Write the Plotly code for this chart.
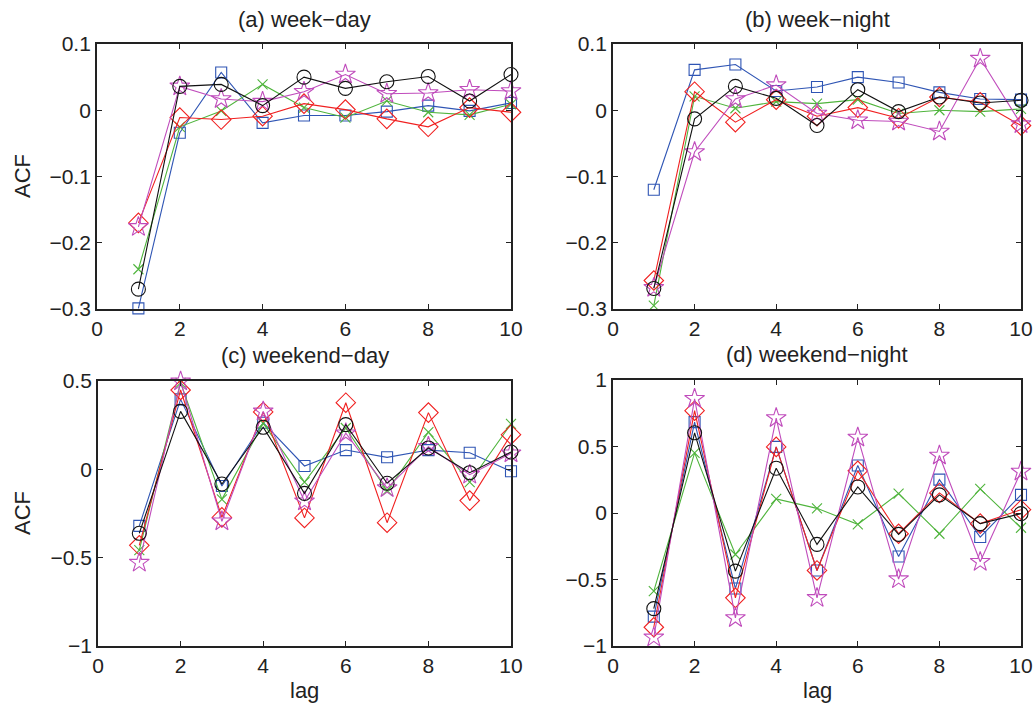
import plotly.graph_objects as go

# Autocorrelation of the five series at lags 1..10, one block per panel
lags = [1, 2, 3, 4, 5, 6, 7, 8, 9, 10]

# (a) week-day
a_circle = [-0.270, 0.036, 0.039, 0.007, 0.050, 0.033, 0.043, 0.051, 0.014, 0.054]
a_square = [-0.299, -0.034, 0.057, -0.019, -0.008, -0.008, -0.002, 0.007, -0.001, 0.011]
a_cross = [-0.240, -0.025, -0.001, 0.039, 0.004, -0.011, 0.014, -0.003, -0.007, 0.009]
a_diamond = [-0.170, -0.011, -0.014, -0.009, 0.010, 0.001, -0.013, -0.025, 0.004, -0.003]
a_star = [-0.176, 0.036, 0.017, 0.013, 0.028, 0.054, 0.025, 0.026, 0.031, 0.029]

# (b) week-night
b_circle = [-0.269, -0.013, 0.036, 0.018, -0.023, 0.031, -0.002, 0.020, 0.011, 0.015]
b_square = [-0.120, 0.061, 0.069, 0.029, 0.035, 0.050, 0.042, 0.027, 0.017, 0.016]
b_cross = [-0.295, 0.021, 0.003, 0.013, 0.010, 0.016, -0.005, 0.000, -0.002, 0.002]
b_diamond = [-0.257, 0.028, -0.018, 0.016, -0.009, 0.004, -0.012, 0.020, 0.012, -0.023]
b_star = [-0.268, -0.063, 0.017, 0.038, -0.005, -0.015, -0.017, -0.032, 0.078, -0.021]

# (c) weekend-day
c_circle = [-0.362, 0.328, -0.083, 0.238, -0.136, 0.253, -0.079, 0.121, -0.019, 0.098]
c_square = [-0.320, 0.396, -0.094, 0.264, 0.019, 0.109, 0.068, 0.109, 0.094, -0.011]
c_cross = [-0.457, 0.490, -0.170, 0.260, -0.072, 0.234, -0.121, 0.211, -0.072, 0.257]
c_diamond = [-0.430, 0.449, -0.272, 0.325, -0.275, 0.377, -0.302, 0.321, -0.177, 0.196]
c_star = [-0.528, 0.498, -0.294, 0.328, -0.181, 0.204, -0.106, 0.128, -0.030, 0.091]

# (d) weekend-night
d_circle = [-0.719, 0.603, -0.437, 0.337, -0.236, 0.196, -0.161, 0.136, -0.080, -0.005]
d_square = [-0.779, 0.683, -0.568, 0.497, -0.432, 0.357, -0.327, 0.251, -0.181, 0.136]
d_cross = [-0.588, 0.452, -0.312, 0.106, 0.035, -0.085, 0.146, -0.156, 0.181, -0.111]
d_diamond = [-0.859, 0.769, -0.638, 0.497, -0.432, 0.317, -0.156, 0.151, -0.080, 0.025]
d_star = [-0.935, 0.859, -0.789, 0.714, -0.638, 0.568, -0.497, 0.432, -0.367, 0.312]

panel_titles = ["(a) week\u2212day", "(b) week\u2212night",
                "(c) weekend\u2212day", "(d) weekend\u2212night"]
x_ticks = [0, 2, 4, 6, 8, 10]
y_ticks_top = [0.1, 0, -0.1, -0.2, -0.3]
y_ticks_c = [0.5, 0, -0.5, -1]
y_ticks_d = [1, 0.5, 0, -0.5, -1]

W, H = 1035, 705
FONT = "Liberation Sans, Arial, Helvetica, sans-serif"
INK = "#222222"


def tick_text(vals):
    # typographic minus for negative tick labels
    return [("%g" % v).replace("-", "\u2212") for v in vals]


# style per series: (colour, marker symbol, marker size)
styles = {
    "square": ("#2f55b4", "square-open", 11),
    "cross": ("#4fb43c", "x-thin-open", 10),
    "diamond": ("#f02020", "diamond-open", 15),
    "star": ("#c04cbc", "star-open", 15),
    "circle": ("#111111", "circle-open", 14),
}

panels = [
    dict(data={"square": a_square, "cross": a_cross, "diamond": a_diamond,
               "star": a_star, "circle": a_circle},
         px=(97, 511), py=(44, 309), yr=(-0.3, 0.1), yt=y_ticks_top),
    dict(data={"square": b_square, "cross": b_cross, "diamond": b_diamond,
               "star": b_star, "circle": b_circle},
         px=(613, 1021), py=(44, 309), yr=(-0.3, 0.1), yt=y_ticks_top),
    dict(data={"square": c_square, "cross": c_cross, "diamond": c_diamond,
               "star": c_star, "circle": c_circle},
         px=(98, 511), py=(381, 646), yr=(-1, 0.5), yt=y_ticks_c),
    dict(data={"square": d_square, "cross": d_cross, "diamond": d_diamond,
               "star": d_star, "circle": d_circle},
         px=(613, 1021), py=(380, 646), yr=(-1, 1), yt=y_ticks_d),
]

fig = go.Figure()
layout = {}
annotations = []

for i, p in enumerate(panels):
    n = "" if i == 0 else str(i + 1)
    xa, ya = "x" + n, "y" + n
    for key, vals in p["data"].items():
        col, sym, sz = styles[key]
        fig.add_trace(go.Scatter(
            x=lags, y=vals, xaxis=xa, yaxis=ya, mode="lines+markers",
            line=dict(color=col, width=1.1),
            marker=dict(symbol=sym, size=sz, color=col,
                        line=dict(color=col, width=1.1)),
            cliponaxis=False, showlegend=False, name=key,
        ))
    axis_common = dict(
        showline=True, linecolor=INK, linewidth=1.8, mirror="ticks",
        ticks="inside", ticklen=5, tickwidth=1.2, tickcolor=INK,
        showgrid=False, zeroline=False, automargin=False,
        tickfont=dict(family=FONT, size=21, color=INK),
    )
    layout["xaxis" + n] = dict(
        axis_common, domain=[p["px"][0] / W, p["px"][1] / W],
        range=[0, 10], tickvals=x_ticks, ticktext=tick_text(x_ticks),
        anchor=ya,
    )
    layout["yaxis" + n] = dict(
        axis_common, domain=[1 - p["py"][1] / H, 1 - p["py"][0] / H],
        range=list(p["yr"]), tickvals=p["yt"], ticktext=tick_text(p["yt"]),
        anchor=xa,
    )
    annotations.append(dict(
        text=panel_titles[i], xref="paper", yref="paper",
        x=(p["px"][0] + p["px"][1]) / 2 / W, y=1 - (p["py"][0] - 25) / H,
        xanchor="center", yanchor="middle", showarrow=False,
        font=dict(family=FONT, size=22, color=INK),
    ))

for yc in (176, 513):
    annotations.append(dict(
        text="ACF", xref="paper", yref="paper", x=22 / W, y=1 - yc / H,
        textangle=-90, xanchor="center", yanchor="middle", showarrow=False,
        font=dict(family=FONT, size=22, color=INK),
    ))
for xc in (304, 817):
    annotations.append(dict(
        text="lag", xref="paper", yref="paper", x=xc / W, y=1 - 690 / H,
        xanchor="center", yanchor="middle", showarrow=False,
        font=dict(family=FONT, size=22, color=INK),
    ))

fig.update_layout(
    width=W, height=H, margin=dict(l=0, r=0, t=0, b=0),
    paper_bgcolor="white", plot_bgcolor="white",
    annotations=annotations, **layout,
)

fig.write_html("out.html")
